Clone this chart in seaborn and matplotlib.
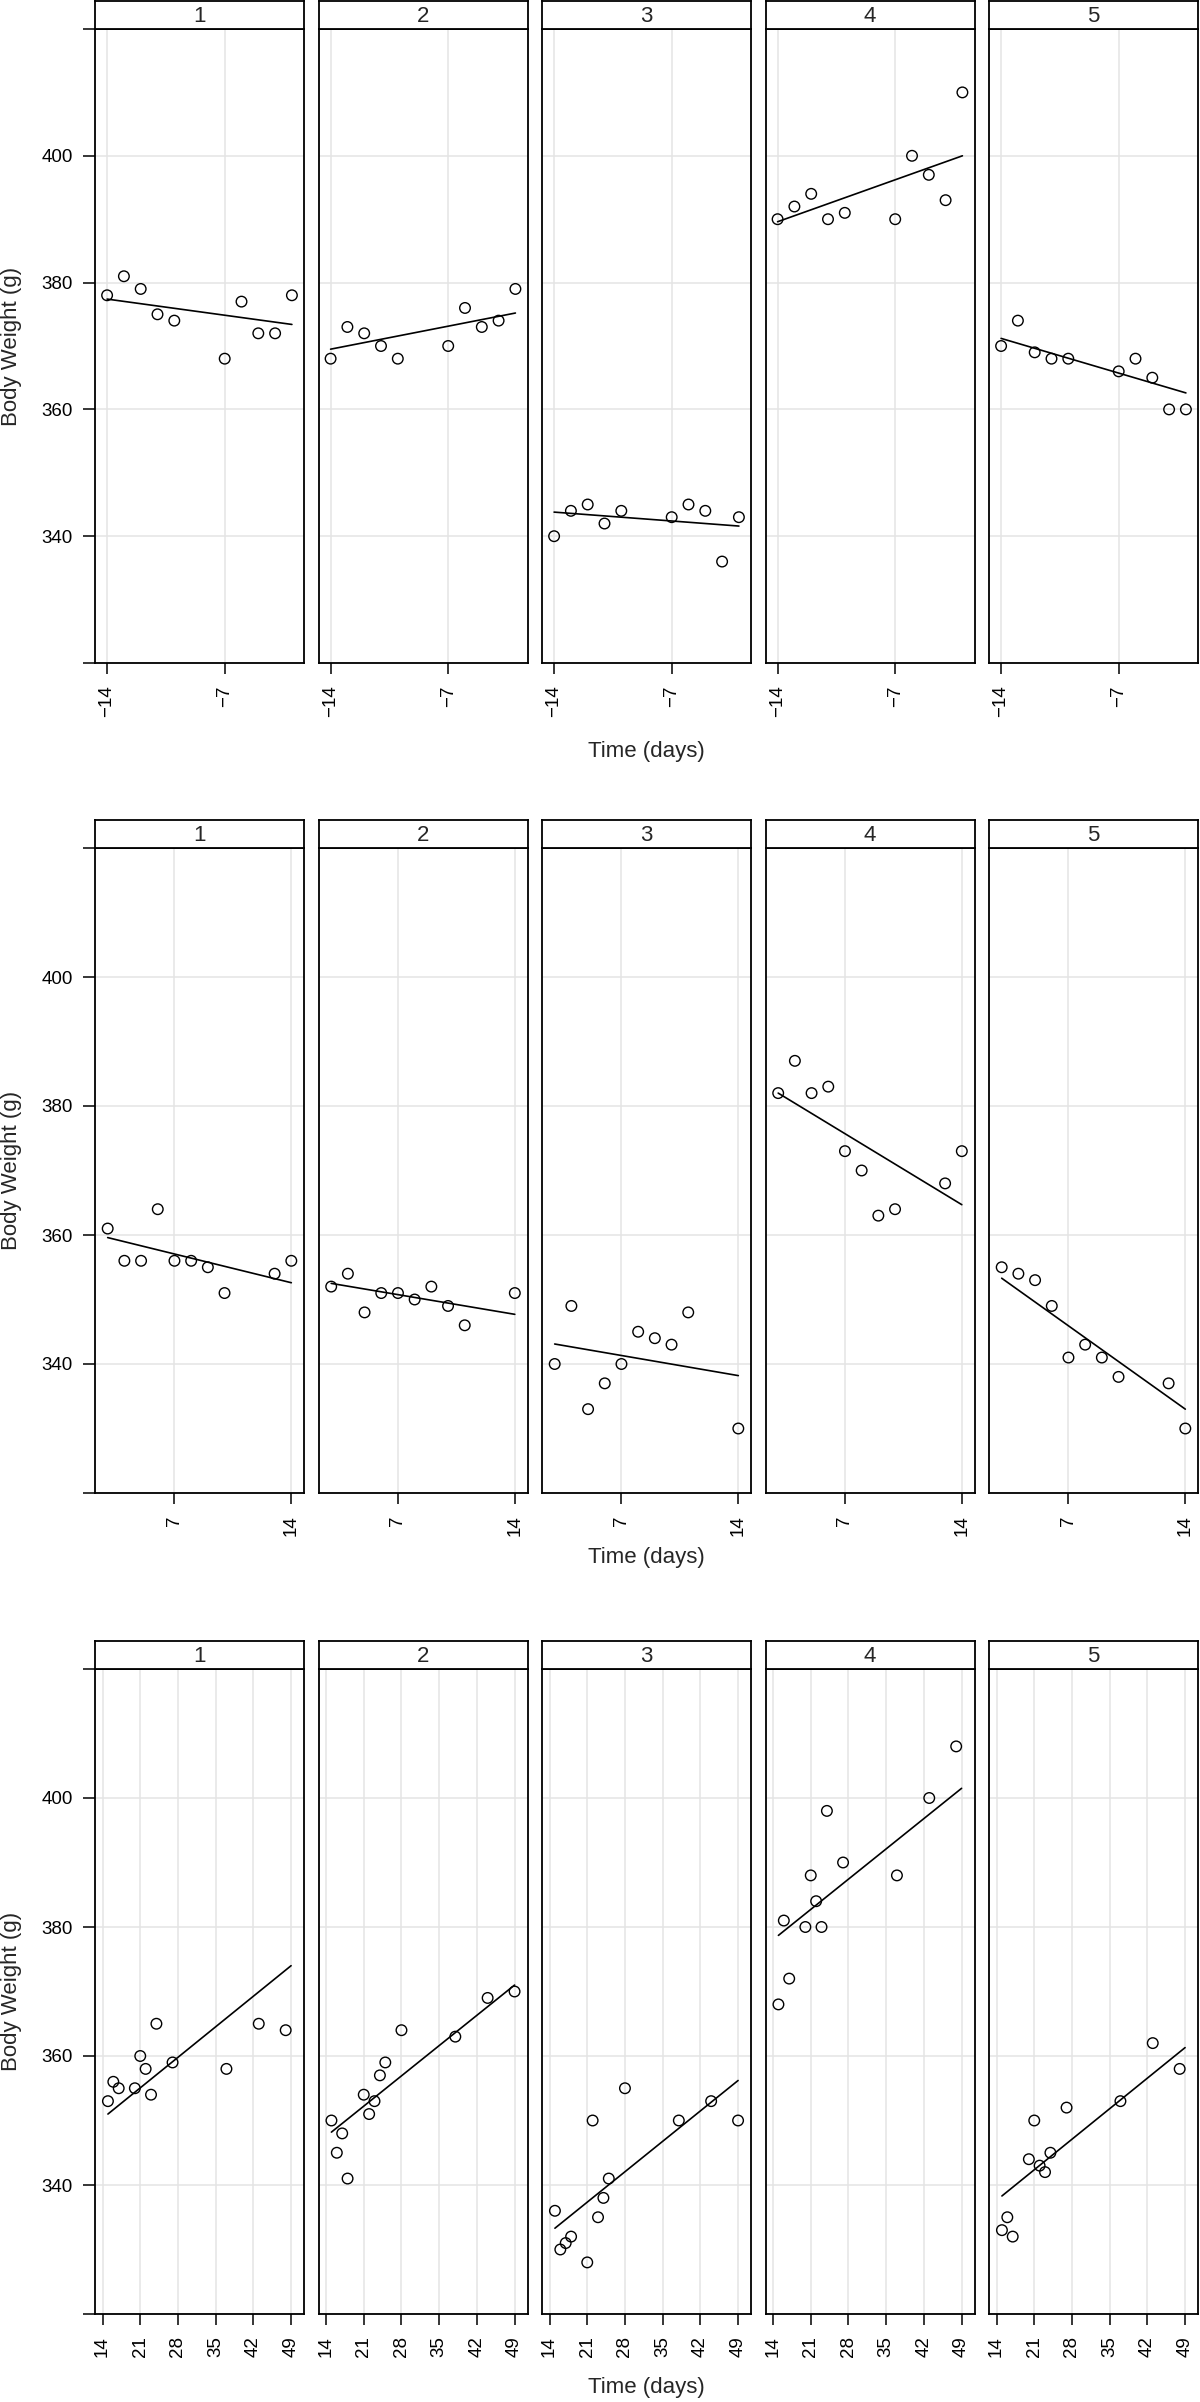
"""Body weight over time per animal: three lattice-style rows of five panels."""
import matplotlib
matplotlib.use("Agg")
import matplotlib.pyplot as plt
import pandas as pd
import seaborn as sns
from matplotlib.ticker import FixedLocator, FixedFormatter

# ---- data ----
animals = ["1", "2", "3", "4", "5"]

# row 1: pre-treatment days
pre_days = [-14, -13, -12, -11, -10, -7, -6, -5, -4, -3]
pre_weights = [
    [378, 381, 379, 375, 374, 368, 377, 372, 372, 378],
    [368, 373, 372, 370, 368, 370, 376, 373, 374, 379],
    [340, 344, 345, 342, 344, 343, 345, 344, 336, 343],
    [390, 392, 394, 390, 391, 390, 400, 397, 393, 410],
    [370, 374, 369, 368, 368, 366, 368, 365, 360, 360],
]
# fitted line (model) start/end values per animal
pre_fit_days = [-14, -3]
pre_fit = [(377.4, 373.4), (369.5, 375.2), (343.8, 341.6), (389.6, 400.0), (371.2, 362.6)]

# row 2: first two weeks
early_days_a = [3, 4, 5, 6, 7, 8, 9, 10, 13, 14]
early_days_b = [3, 4, 5, 6, 7, 8, 9, 10, 11, 14]
early_weights = [
    [361, 356, 356, 364, 356, 356, 355, 351, 354, 356],
    [352, 354, 348, 351, 351, 350, 352, 349, 346, 351],
    [340, 349, 333, 337, 340, 345, 344, 343, 348, 330],
    [382, 387, 382, 383, 373, 370, 363, 364, 368, 373],
    [355, 354, 353, 349, 341, 343, 341, 338, 337, 330],
]
early_fit_days = [3, 14]
early_fit = [(359.6, 352.6), (352.5, 347.7), (343.1, 338.2), (382.0, 364.7), (353.3, 333.0)]

# row 3: later period
late_days_a = [15, 16, 17, 20, 21, 22, 23, 24, 27, 37, 43, 48]
late_days_b = [15, 16, 17, 18, 21, 22, 23, 24, 25, 28, 38, 44, 49]
late_weights = [
    [353, 356, 355, 355, 360, 358, 354, 365, 359, 358, 365, 364],
    [350, 345, 348, 341, 354, 351, 353, 357, 359, 364, 363, 369, 370],
    [336, 330, 331, 332, 328, 350, 335, 338, 341, 355, 350, 353, 350],
    [368, 381, 372, 380, 388, 384, 380, 398, 390, 388, 400, 408],
    [333, 335, 332, 344, 350, 343, 342, 345, 352, 353, 362, 358],
]
late_fit_days = [15, 49]
late_fit = [(351.0, 374.0), (348.2, 371.0), (333.3, 356.2), (378.7, 401.5), (338.3, 361.3)]

y_ticks = [320, 340, 360, 380, 400, 420]
y_labels = ["", "340", "360", "380", "400", ""]

rows = [
    dict(days=[pre_days] * 5, weights=pre_weights, fit_days=pre_fit_days, fit=pre_fit,
         xlim=(-14.72, -2.28), xticks=[-14, -7], top=29, height=634, xlab_y=751),
    dict(days=[early_days_a, early_days_b, early_days_b, early_days_a, early_days_a],
         weights=early_weights, fit_days=early_fit_days, fit=early_fit,
         xlim=(2.24, 14.76), xticks=[7, 14], top=848, height=645, xlab_y=1558),
    dict(days=[late_days_a, late_days_b, late_days_b, late_days_a, late_days_a],
         weights=late_weights, fit_days=late_fit_days, fit=late_fit,
         xlim=(12.6, 51.4), xticks=[14, 21, 28, 35, 42, 49],
         top=1669, height=645, xlab_y=2388),
]

# ---- layout (pixels of a 1200 x 2402 canvas) ----
W, H = 1200, 2402
panel_left = [95, 318.5, 542, 765.5, 989]
panel_w = 209
strip_h = 28
line_col = "black"
grid_col = "#e4e4e4"

sns.set_theme(style="white")
plt.rcParams["font.family"] = ["Liberation Sans", "DejaVu Sans"]
plt.rcParams["axes.unicode_minus"] = True

fig = plt.figure(figsize=(W / 100, H / 100), dpi=100)

for row in rows:
    top, ph = row["top"], row["height"]
    for i, name in enumerate(animals):
        df = pd.DataFrame({"day": row["days"][i], "weight": row["weights"][i]})
        fit_df = pd.DataFrame({"day": row["fit_days"], "weight": list(row["fit"][i])})
        ax = fig.add_axes([panel_left[i] / W, 1 - (top + ph) / H, panel_w / W, ph / H])
        ax.set_axisbelow(True)
        sns.lineplot(data=fit_df, x="day", y="weight", ax=ax, color=line_col, lw=1.2)
        sns.scatterplot(data=df, x="day", y="weight", ax=ax, marker="o", s=58,
                        facecolors="none", edgecolor=line_col, linewidth=1.0, zorder=3)
        ax.set_xlim(*row["xlim"])
        ax.set_ylim(320, 420)
        ax.xaxis.set_major_locator(FixedLocator(row["xticks"]))
        ax.set_xticklabels([f"{t}".replace("-", "\u2212") for t in row["xticks"]],
                           rotation=90, fontsize=13.5)
        ax.yaxis.set_major_locator(FixedLocator(y_ticks))
        if i == 0:
            ax.yaxis.set_major_formatter(FixedFormatter(y_labels))
            ax.tick_params(axis="y", labelsize=13.5, length=9, width=1.1,
                           direction="out", pad=7, left=True, colors=line_col)
        else:
            ax.tick_params(axis="y", left=False, labelleft=False)
        ax.tick_params(axis="x", length=8, width=1.1, direction="out", pad=8,
                       bottom=True, colors=line_col)
        ax.grid(True, color=grid_col, lw=1.1)
        ax.set_xlabel("")
        ax.set_ylabel("")
        for sp in ax.spines.values():
            sp.set_color(line_col)
            sp.set_linewidth(1.3)

        # strip with panel label
        sax = fig.add_axes([panel_left[i] / W, 1 - top / H, panel_w / W, strip_h / H])
        sax.set_xticks([])
        sax.set_yticks([])
        sax.set_facecolor("white")
        for sp in sax.spines.values():
            sp.set_color(line_col)
            sp.set_linewidth(1.3)
        sax.text(0.5, 0.45, name, ha="center", va="center", fontsize=16,
                 transform=sax.transAxes)

    fig.text(12 / W, 1 - (top + ph / 2) / H, "Body Weight (g)", rotation=90,
             ha="center", va="center", fontsize=16)
    fig.text(646 / W, 1 - row["xlab_y"] / H, "Time (days)", ha="center",
             va="center", fontsize=16)

fig.savefig("out.png", dpi=100, facecolor="white")
